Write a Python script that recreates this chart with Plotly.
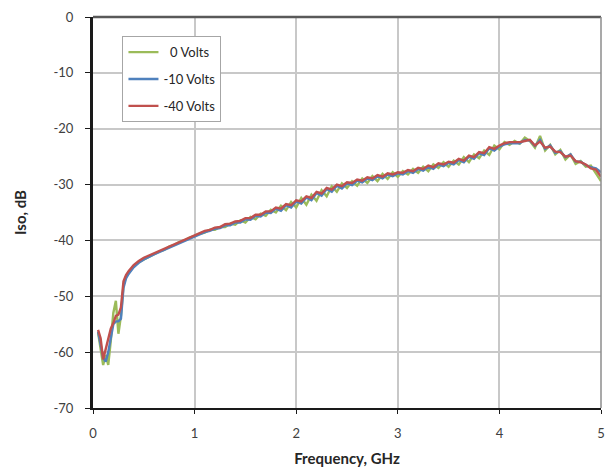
import plotly.graph_objects as go

# Frequency sweep points (GHz): finer steps at the low end, 50 MHz steps above
freq_ghz = [0.05, 0.075, 0.10, 0.125, 0.15, 0.175, 0.20, 0.225, 0.25, 0.275, 0.30, 0.325,
            0.35, 0.40, 0.45, 0.50, 0.55, 0.60, 0.65, 0.70, 0.75, 0.80, 0.85, 0.90, 0.95,
            1.00, 1.05, 1.10, 1.15, 1.20, 1.25, 1.30, 1.35, 1.40, 1.45, 1.50, 1.55, 1.60,
            1.65, 1.70, 1.75, 1.80, 1.85, 1.90, 1.95, 2.00, 2.05, 2.10, 2.15, 2.20, 2.25,
            2.30, 2.35, 2.40, 2.45, 2.50, 2.55, 2.60, 2.65, 2.70, 2.75, 2.80, 2.85, 2.90,
            2.95, 3.00, 3.05, 3.10, 3.15, 3.20, 3.25, 3.30, 3.35, 3.40, 3.45, 3.50, 3.55,
            3.60, 3.65, 3.70, 3.75, 3.80, 3.85, 3.90, 3.95, 4.00, 4.05, 4.10, 4.15, 4.20,
            4.25, 4.30, 4.35, 4.40, 4.45, 4.50, 4.55, 4.60, 4.65, 4.70, 4.75, 4.80, 4.85,
            4.90, 4.95, 5.00]

# Isolation (dB) at each bias voltage
iso_0v = [-56.5, -59.5, -62.3, -60.5, -62.3, -58.0, -53.0, -50.8, -56.7, -53.5, -48.0, -46.5,
          -45.8, -44.6, -43.9, -43.4, -42.9, -42.5, -42.0, -41.7, -41.1, -40.8, -40.3, -40.0, -39.5,
          -39.2, -38.8, -38.6, -38.1, -38.1, -37.6, -37.6, -37.0, -37.2, -36.4, -36.8, -35.8, -36.2,
          -35.2, -35.6, -34.5, -35.0, -33.8, -34.6, -33.1, -34.1, -32.4, -33.6, -31.8, -32.9, -31.0,
          -32.1, -30.3, -31.3, -29.8, -30.6, -29.4, -30.2, -28.9, -29.7, -28.5, -29.4, -28.1, -29.0,
          -27.8, -28.6, -27.6, -28.2, -27.2, -27.9, -26.8, -27.6, -26.4, -27.0, -26.0, -26.8, -25.7,
          -26.4, -25.1, -26.0, -24.6, -25.3, -23.9, -24.7, -23.0, -23.7, -22.4, -22.9, -22.2, -22.7,
          -21.6, -22.2, -23.4, -21.3, -23.9, -22.9, -24.6, -23.8, -25.5, -24.6, -26.3, -25.8, -26.8,
          -26.6, -27.9, -29.4]

iso_10v = [-56.3, -58.5, -61.0, -61.7, -60.0, -57.5, -55.0, -54.5, -54.5, -54.0, -48.5, -46.8,
           -46.0, -44.8, -44.0, -43.4, -42.9, -42.5, -42.1, -41.7, -41.2, -40.8, -40.4, -40.0, -39.6,
           -39.2, -38.9, -38.5, -38.3, -37.9, -37.8, -37.3, -37.3, -36.8, -36.8, -36.2, -36.3, -35.6,
           -35.7, -35.0, -35.1, -34.3, -34.7, -33.7, -34.1, -33.0, -33.4, -32.3, -32.8, -31.5, -32.0,
           -30.8, -31.3, -30.2, -30.7, -29.8, -30.1, -29.3, -29.6, -28.9, -29.2, -28.5, -28.9, -28.2,
           -28.5, -28.0, -28.2, -27.6, -27.9, -27.2, -27.5, -26.8, -27.2, -26.4, -26.7, -26.1, -26.4,
           -25.6, -26.0, -25.0, -25.4, -24.4, -24.7, -23.5, -23.9, -23.2, -22.8, -22.6, -22.6, -22.6,
           -22.0, -22.1, -23.1, -22.0, -23.6, -23.0, -24.3, -24.0, -25.1, -24.6, -25.9, -25.9, -26.5,
           -26.9, -27.1, -27.8]

iso_40v = [-56.0, -57.5, -61.3, -59.5, -57.5, -55.8, -54.8, -53.5, -53.3, -52.0, -47.3, -46.2,
           -45.5, -44.4, -43.7, -43.1, -42.7, -42.3, -41.9, -41.5, -41.0, -40.6, -40.2, -39.8, -39.4,
           -39.0, -38.7, -38.3, -38.1, -37.7, -37.6, -37.1, -37.0, -36.6, -36.5, -36.0, -36.0, -35.4,
           -35.4, -34.8, -34.8, -34.1, -34.3, -33.5, -33.7, -32.8, -33.0, -32.1, -32.4, -31.3, -31.6,
           -30.6, -30.9, -30.0, -30.3, -29.6, -29.7, -29.1, -29.3, -28.7, -28.9, -28.3, -28.6, -28.0,
           -28.2, -27.8, -27.9, -27.4, -27.6, -27.0, -27.2, -26.6, -26.9, -26.2, -26.4, -25.9, -26.1,
           -25.4, -25.7, -24.8, -25.1, -24.2, -24.4, -23.3, -23.6, -23.0, -22.6, -22.4, -22.4, -22.4,
           -22.2, -22.0, -23.0, -22.3, -23.4, -23.2, -24.1, -24.2, -25.0, -24.8, -25.8, -26.0, -26.4,
           -27.1, -27.3, -28.6]

series = [("\u00a0\u00a00 Volts", iso_0v, "#9bbb59"),
          ("-10 Volts", iso_10v, "#4f81bd"),
          ("-40 Volts", iso_40v, "#c0504d")]

x_ticks = [0, 1, 2, 3, 4, 5]
x_labels = ["0", "1", "2", "3", "4", "5"]
y_ticks = [0, -10, -20, -30, -40, -50, -60, -70]
y_labels = ["0", "-10", "-20", "-30", "-40", "-50", "-60", "-70"]

FONT = "Lato, 'Open Sans', sans-serif"

fig = go.Figure()
for i, (name, vals, color) in enumerate(series):
    fig.add_trace(go.Scatter(x=freq_ghz, y=vals, mode="lines", name=name,
                             legendgroup=f"g{i}",
                             line=dict(color=color, width=2.4)))

fig.update_layout(
    width=614, height=474,
    margin=dict(l=93, r=9, t=15, b=64),
    paper_bgcolor="white", plot_bgcolor="white",
    font=dict(family=FONT, size=13, color="#404040"),
    showlegend=True,
    legend=dict(x=0.058, y=0.951, xanchor="left", yanchor="top",
                bgcolor="white", bordercolor="#a6a6a6", borderwidth=1,
                font=dict(family=FONT, size=13, color="#262626"),
                itemwidth=30, tracegroupgap=7),
)

fig.update_xaxes(range=[0, 5], tickvals=x_ticks, ticktext=x_labels, showgrid=True,
                 gridcolor="#c8c8c8", gridwidth=1.5, zeroline=False, showline=True,
                 linecolor="#1a1a1a", linewidth=2, ticks="outside", ticklen=4,
                 tickcolor="#1a1a1a", ticklabelstandoff=8,
                 tickfont=dict(size=13, color="#404040"),
                 title=dict(text="<b>Frequency, GHz</b>", font=dict(size=15, color="#262626"),
                            standoff=14))
fig.update_yaxes(range=[-70, 0], tickvals=y_ticks, ticktext=y_labels, showgrid=True,
                 gridcolor="#c8c8c8", gridwidth=1.5, zeroline=False, showline=True,
                 linecolor="#1a1a1a", linewidth=3, ticks="outside", ticklen=5,
                 tickcolor="#1a1a1a", ticklabelstandoff=9,
                 tickfont=dict(size=13, color="#404040"),
                 title=dict(text="<b>Iso, dB</b>", font=dict(size=15, color="#262626"),
                            standoff=24))

# Frame on the top and right edges of the plotting area
fig.add_shape(type="line", xref="paper", yref="paper", x0=0, x1=1, y0=1, y1=1,
              line=dict(color="#595959", width=2.5))
fig.add_shape(type="line", xref="paper", yref="paper", x0=1, x1=1, y0=0, y1=1,
              line=dict(color="#8c8c8c", width=1.5))

fig.write_html("out.html")
